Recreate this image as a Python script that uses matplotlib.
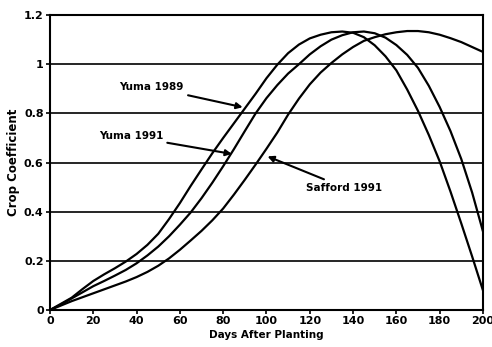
import matplotlib
matplotlib.use('Agg')
import matplotlib.pyplot as plt

# days after planting, every 5 days
days = list(range(0, 201, 5))

# crop coefficient curves
yuma_1989 = [0.0, 0.025, 0.05, 0.085, 0.118, 0.145, 0.17, 0.197, 0.228, 0.265,
             0.31, 0.37, 0.435, 0.505, 0.572, 0.638, 0.70, 0.76, 0.82, 0.88,
             0.943, 0.998, 1.045, 1.08, 1.105, 1.12, 1.13, 1.133, 1.128, 1.11,
             1.077, 1.032, 0.975, 0.897, 0.81, 0.712, 0.605, 0.482, 0.352, 0.218,
             0.08]
yuma_1991 = [0.0, 0.022, 0.047, 0.072, 0.097, 0.118, 0.14, 0.163, 0.19, 0.222,
             0.258, 0.30, 0.347, 0.397, 0.455, 0.518, 0.585, 0.655, 0.728, 0.80,
             0.862, 0.915, 0.962, 1.0, 1.04, 1.073, 1.10, 1.118, 1.13, 1.133,
             1.126, 1.108, 1.078, 1.038, 0.985, 0.912, 0.826, 0.728, 0.614, 0.478,
             0.32]
safford_1991 = [0.0, 0.018, 0.036, 0.052, 0.068, 0.084, 0.1, 0.116, 0.134, 0.155,
                0.18, 0.21, 0.245, 0.283, 0.322, 0.365, 0.413, 0.47, 0.53, 0.592,
                0.656, 0.722, 0.795, 0.86, 0.918, 0.966, 1.005, 1.04, 1.07, 1.095,
                1.11, 1.122, 1.13, 1.135, 1.135, 1.13, 1.12, 1.106, 1.09, 1.07,
                1.05]

x_ticks = list(range(0, 201, 20))
y_ticks = [0, 0.2, 0.4, 0.6, 0.8, 1.0, 1.2]
y_tick_labels = ['0', '0.2', '0.4', '0.6', '0.8', '1', '1.2']

plt.rcParams['font.family'] = 'DejaVu Sans'
plt.rcParams['font.weight'] = 'bold'

fig = plt.figure(figsize=(4.92, 3.47), dpi=100)
ax = fig.add_axes([0.1016, 0.1066, 0.88, 0.85])

for k in [yuma_1989, yuma_1991, safford_1991]:
    ax.plot(days, k, color='black', lw=1.6, solid_capstyle='round', solid_joinstyle='round')

# horizontal grid lines
for yv in y_ticks[1:-1]:
    ax.axhline(yv, color='black', lw=1.2, zorder=0)

ax.set_xlim(0, 200)
ax.set_ylim(0, 1.2)
ax.set_xticks(x_ticks)
ax.set_yticks(y_ticks)
ax.set_yticklabels(y_tick_labels)
ax.tick_params(direction='out', length=3, width=1.2, labelsize=8, pad=1.5)
for s in ax.spines.values():
    s.set_linewidth(1.5)

ax.set_xlabel('Days After Planting', fontsize=7.5, fontweight='bold', labelpad=2.5)
ax.set_ylabel('Crop Coefficient', fontsize=8.5, fontweight='bold', labelpad=3)

arrow = dict(arrowstyle='-|>', color='black', lw=1.5, mutation_scale=9, shrinkA=1, shrinkB=0)
ax.annotate('Yuma 1989', xy=(89, 0.825), xytext=(47, 0.906), fontsize=7.5,
            fontweight='bold', ha='center', va='center', arrowprops=arrow)
ax.annotate('Yuma 1991', xy=(84, 0.635), xytext=(37.4, 0.706), fontsize=7.5,
            fontweight='bold', ha='center', va='center', arrowprops=arrow)
ax.annotate('Safford 1991', xy=(100.5, 0.625), xytext=(136, 0.498), fontsize=7.5,
            fontweight='bold', ha='center', va='center', arrowprops=arrow)

fig.savefig('out.png', dpi=100, facecolor='white')
